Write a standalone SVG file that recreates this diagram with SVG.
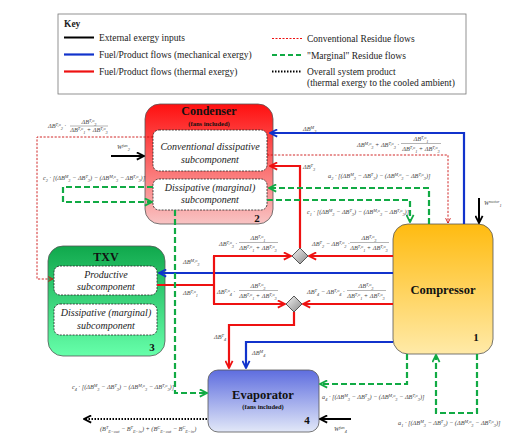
<svg xmlns="http://www.w3.org/2000/svg" width="517" height="444" viewBox="0 0 517 444">
<style>
.kt{font-family:"Liberation Serif",serif;font-size:9.5px;fill:#222}
.f{font-family:"Liberation Serif",serif;font-size:6.3px;font-style:italic;fill:#444}
.k{font-size:4.3px}
.t{font-family:"Liberation Serif",serif;font-weight:bold;fill:#111;text-anchor:middle}
.it{font-family:"Liberation Serif",serif;font-style:italic;font-size:10px;fill:#222;text-anchor:middle}
.box{stroke:#555;stroke-width:0.8}
.sub{fill:#fff;stroke:#222;stroke-width:0.8;stroke-dasharray:2,1.2}
.bl{fill:none;stroke:#1133cc;stroke-width:2.2}
.rd{fill:none;stroke:#ee1111;stroke-width:2.2}
.gr{fill:none;stroke:#11aa44;stroke-width:2.2;stroke-dasharray:6,3}
.rdd{fill:none;stroke:#cc1111;stroke-width:0.9;stroke-dasharray:2.2,1.5}
.bk{fill:none;stroke:#000;stroke-width:2}
.dt{fill:none;stroke:#000;stroke-width:2;stroke-dasharray:1.5,1.5}
.bar{stroke:#444;stroke-width:0.4}
</style>
<defs>
<linearGradient id="gC" x1="0" y1="0" x2="0" y2="1"><stop offset="0" stop-color="#ff1010"/><stop offset="1" stop-color="#f8c4c4"/></linearGradient>
<linearGradient id="gT" x1="0" y1="0" x2="0" y2="1"><stop offset="0" stop-color="#10a84c"/><stop offset="1" stop-color="#66ffaa"/></linearGradient>
<linearGradient id="gP" x1="0" y1="0" x2="0" y2="1"><stop offset="0" stop-color="#ffbb10"/><stop offset="1" stop-color="#ffeaa8"/></linearGradient>
<linearGradient id="gE" x1="0" y1="0" x2="0" y2="1"><stop offset="0" stop-color="#5e6ddf"/><stop offset="1" stop-color="#e2e8f8"/></linearGradient>
<linearGradient id="gD" x1="0" y1="0" x2="1" y2="1"><stop offset="0" stop-color="#f4f4f4"/><stop offset="1" stop-color="#888"/></linearGradient>
<marker id="aB" viewBox="0 0 10 10" refX="9" refY="5" markerWidth="9" markerHeight="9" markerUnits="userSpaceOnUse" orient="auto"><path d="M1,1 L9,5 L1,9" fill="none" stroke="#1133cc" stroke-width="2"/></marker>
<marker id="aR" viewBox="0 0 10 10" refX="9" refY="5" markerWidth="9" markerHeight="9" markerUnits="userSpaceOnUse" orient="auto"><path d="M1,1 L9,5 L1,9" fill="none" stroke="#ee1111" stroke-width="2"/></marker>
<marker id="aG" viewBox="0 0 10 10" refX="9" refY="5" markerWidth="9" markerHeight="9" markerUnits="userSpaceOnUse" orient="auto"><path d="M1,1 L9,5 L1,9" fill="none" stroke="#11aa44" stroke-width="2"/></marker>
<marker id="aK" viewBox="0 0 10 10" refX="9" refY="5" markerWidth="9" markerHeight="9" markerUnits="userSpaceOnUse" orient="auto"><path d="M1,1 L9,5 L1,9" fill="none" stroke="#000" stroke-width="2"/></marker>
<marker id="aD" viewBox="0 0 10 10" refX="9" refY="5" markerWidth="6" markerHeight="6" markerUnits="userSpaceOnUse" orient="auto"><path d="M1,1 L9,5 L1,9" fill="none" stroke="#cc1111" stroke-width="1.5"/></marker>
</defs>
<rect width="517" height="444" fill="#fff"/>

<g id="key">
<rect x="58" y="14" width="408" height="80" fill="#fff" stroke="#777" stroke-width="0.8"/>
<text x="64" y="27" class="kt" font-weight="bold">Key</text>
<line x1="64" y1="37.5" x2="94" y2="37.5" class="bk"/>
<line x1="64" y1="54.5" x2="94" y2="54.5" class="bl"/>
<line x1="64" y1="71.5" x2="94" y2="71.5" class="rd"/>
<text x="99" y="41" class="kt">External exergy inputs</text>
<text x="99" y="58" class="kt">Fuel/Product flows (mechanical exergy)</text>
<text x="99" y="75" class="kt">Fuel/Product flows (thermal exergy)</text>
<line x1="272" y1="38.5" x2="302" y2="38.5" stroke="#ee1111" stroke-width="1" stroke-dasharray="2,1.5"/>
<line x1="272" y1="55" x2="302" y2="55" stroke="#11aa44" stroke-width="2" stroke-dasharray="5,3"/>
<line x1="272" y1="71.5" x2="302" y2="71.5" class="dt"/>
<text x="307" y="42" class="kt">Conventional Residue flows</text>
<text x="307" y="59" class="kt">"Marginal" Residue flows</text>
<text x="307" y="75" class="kt">Overall system product</text>
<text x="307" y="86" class="kt">(thermal exergy to the cooled ambient)</text>
</g>

<g id="condenser">
<rect x="145" y="104" width="128" height="120" rx="15" fill="url(#gC)" class="box"/>
<text x="209" y="115" class="t" font-size="12">Condenser</text>
<text x="209" y="126" class="t" font-size="6.5">(fans included)</text>
<rect x="153" y="130" width="114" height="41" rx="6" class="sub"/>
<text x="210" y="150" class="it">Conventional dissipative</text>
<text x="210" y="163" class="it">subcomponent</text>
<rect x="153" y="179" width="114" height="31" rx="6" class="sub"/>
<text x="210" y="191" class="it">Dissipative (marginal)</text>
<text x="210" y="203" class="it">subcomponent</text>
<text x="257" y="222" class="t" font-size="11">2</text>
</g>

<g id="txv">
<rect x="48" y="246" width="117" height="110" rx="15" fill="url(#gT)" class="box"/>
<text x="106" y="261" class="t" font-size="12">TXV</text>
<rect x="54" y="266" width="103" height="29" rx="6" class="sub"/>
<text x="106" y="278" class="it">Productive</text>
<text x="106" y="290" class="it">subcomponent</text>
<rect x="54" y="304" width="103" height="31" rx="6" class="sub"/>
<text x="106" y="316" class="it">Dissipative (marginal)</text>
<text x="106" y="329" class="it">subcomponent</text>
<text x="152" y="351" class="t" font-size="11">3</text>
</g>

<g id="compressor">
<rect x="393" y="224" width="100" height="130" rx="15" fill="url(#gP)" class="box"/>
<text x="443" y="294" class="t" font-size="12.5">Compressor</text>
<text x="476" y="341" class="t" font-size="11">1</text>
</g>

<g id="evaporator">
<rect x="208" y="370" width="111" height="62" rx="10" fill="url(#gE)" class="box"/>
<text x="263" y="399" class="t" font-size="12.5">Evaporator</text>
<text x="263" y="409" class="t" font-size="6.5">(fans included)</text>
<text x="307" y="424" class="t" font-size="11">4</text>
</g>

<g id="junction1"><path d="M300,248 L308,256 L300,264 L292,256 Z" fill="url(#gD)" stroke="#333" stroke-width="0.8"/></g>
<g id="junction2"><path d="M294,296 L302,304 L294,312 L286,304 Z" fill="url(#gD)" stroke="#333" stroke-width="0.8"/></g>

<g id="connectors">
<path d="M464,224 V133 H270" class="bl" marker-end="url(#aB)"/>
<path d="M393,273 H159" class="bl" marker-end="url(#aB)"/>
<path d="M393,342 H246 V368" class="bl" marker-end="url(#aB)"/>
<path d="M300,248 V166 H270" class="rd" marker-end="url(#aR)"/>
<path d="M157,285 H214" class="rd"/>
<path d="M214,256 V304" class="rd"/>
<path d="M213,256 H291" class="rd" marker-end="url(#aR)"/>
<path d="M213,304 H285" class="rd" marker-end="url(#aR)"/>
<path d="M393,256 H309" class="rd" marker-end="url(#aR)"/>
<path d="M393,304 H303" class="rd" marker-end="url(#aR)"/>
<path d="M294,312 V325 H229 V368" class="rd" marker-end="url(#aR)"/>
<path d="M267,155 H448 V223" class="rdd" marker-end="url(#aD)"/>
<path d="M153,137 H37 V279 H53" class="rdd" marker-end="url(#aD)"/>
<path d="M429,224 V188 H269" class="gr" marker-end="url(#aG)"/>
<path d="M267,200 H410 V222" class="gr" marker-end="url(#aG)"/>
<path d="M153,187 H63 V202 H152" class="gr" marker-end="url(#aG)"/>
<path d="M175,210 V393 H207" class="gr" marker-end="url(#aG)"/>
<path d="M407,354 V384 H320" class="gr" marker-end="url(#aG)"/>
<path d="M477,354 V413 H436 V355" class="gr" marker-end="url(#aG)"/>
<path d="M111,156 H144" class="bk" marker-end="url(#aK)"/>
<path d="M479,198 V223" class="bk" marker-end="url(#aK)"/>
<path d="M351,419 H320" class="bk" marker-end="url(#aK)"/>
<path d="M207,419 H84" class="dt" marker-end="url(#aK)"/>
</g>

<g id="labels">
<text x="117" y="149" class="f">W<tspan class="k" dy="-2.3">fan</tspan><tspan class="k" dy="3.8">2</tspan></text>
<text x="484" y="205" class="f">W<tspan class="k" dy="-2.3">motor</tspan><tspan class="k" dy="3.8">1</tspan></text>
<text x="334" y="431" class="f">W<tspan class="k" dy="-2.3">fan</tspan><tspan class="k" dy="3.8">4</tspan></text>
<text x="303" y="131" class="f">ΔB<tspan class="k" dy="-2.3">M</tspan><tspan class="k" dy="3.8">3</tspan></text>
<text x="303" y="169" class="f">ΔB<tspan class="k" dy="-2.3">T</tspan><tspan class="k" dy="3.8">3</tspan></text>
<text x="183" y="264" class="f">ΔB<tspan class="k" dy="-2.3">M,o</tspan><tspan class="k" dy="3.8">3</tspan></text>
<text x="183" y="295" class="f">ΔB<tspan class="k" dy="-2.3">T,o</tspan><tspan class="k" dy="3.8">1</tspan></text>
<text x="214" y="339" class="f">ΔB<tspan class="k" dy="-2.3">T</tspan><tspan class="k" dy="3.8">4</tspan></text>
<text x="252" y="355" class="f">ΔB<tspan class="k" dy="-2.3">M</tspan><tspan class="k" dy="3.8">4</tspan></text>

<text x="48" y="128" class="f">ΔB<tspan class="k" dy="-2.3">T,o</tspan><tspan class="k" dy="3.8">2</tspan><tspan dy="-1.5"> ·</tspan></text>
<text x="89" y="124" class="f" text-anchor="middle">ΔB<tspan class="k" dy="-2.3">T,o</tspan><tspan class="k" dy="3.8">3</tspan></text>
<line x1="70" y1="126" x2="108" y2="126" class="bar"/>
<text x="89" y="132" class="f" text-anchor="middle">ΔB<tspan class="k" dy="-2.3">T,o</tspan><tspan class="k" dy="3.8">1</tspan><tspan dy="-1.5"> + ΔB</tspan><tspan class="k" dy="-2.3">T,o</tspan><tspan class="k" dy="3.8">3</tspan></text>

<text x="357" y="147" class="f">ΔB<tspan class="k" dy="-2.3">M,o</tspan><tspan class="k" dy="3.8">3</tspan><tspan dy="-1.5"> + ΔB</tspan><tspan class="k" dy="-2.3">T,o</tspan><tspan class="k" dy="3.8">3</tspan><tspan dy="-1.5"> ·</tspan></text>
<text x="421" y="141" class="f" text-anchor="middle">ΔB<tspan class="k" dy="-2.3">T,o</tspan><tspan class="k" dy="3.8">1</tspan></text>
<line x1="401" y1="143.5" x2="441" y2="143.5" class="bar"/>
<text x="421" y="151" class="f" text-anchor="middle">ΔB<tspan class="k" dy="-2.3">T,o</tspan><tspan class="k" dy="3.8">1</tspan><tspan dy="-1.5"> + ΔB</tspan><tspan class="k" dy="-2.3">T,o</tspan><tspan class="k" dy="3.8">3</tspan></text>

<text x="328" y="178" class="f">a<tspan class="k" dy="1.5">2</tspan><tspan dy="-1.5"> · [(ΔB</tspan><tspan class="k" dy="-2.3">M</tspan><tspan class="k" dy="3.8">3</tspan><tspan dy="-1.5"> − ΔB</tspan><tspan class="k" dy="-2.3">T</tspan><tspan class="k" dy="3.8">3</tspan><tspan dy="-1.5">) − (ΔB</tspan><tspan class="k" dy="-2.3">M,o</tspan><tspan class="k" dy="3.8">3</tspan><tspan dy="-1.5"> − ΔB</tspan><tspan class="k" dy="-2.3">T,o</tspan><tspan class="k" dy="3.8">3</tspan><tspan dy="-1.5">)]</tspan></text>
<text x="307" y="214" class="f">c<tspan class="k" dy="1.5">1</tspan><tspan dy="-1.5"> · [(ΔB</tspan><tspan class="k" dy="-2.3">M</tspan><tspan class="k" dy="3.8">3</tspan><tspan dy="-1.5"> − ΔB</tspan><tspan class="k" dy="-2.3">T</tspan><tspan class="k" dy="3.8">3</tspan><tspan dy="-1.5">) − (ΔB</tspan><tspan class="k" dy="-2.3">M,o</tspan><tspan class="k" dy="3.8">3</tspan><tspan dy="-1.5"> − ΔB</tspan><tspan class="k" dy="-2.3">T,o</tspan><tspan class="k" dy="3.8">3</tspan><tspan dy="-1.5">)]</tspan></text>
<text x="43" y="180" class="f">c<tspan class="k" dy="1.5">2</tspan><tspan dy="-1.5"> · [(ΔB</tspan><tspan class="k" dy="-2.3">M</tspan><tspan class="k" dy="3.8">3</tspan><tspan dy="-1.5"> − ΔB</tspan><tspan class="k" dy="-2.3">T</tspan><tspan class="k" dy="3.8">3</tspan><tspan dy="-1.5">) − (ΔB</tspan><tspan class="k" dy="-2.3">M,o</tspan><tspan class="k" dy="3.8">3</tspan><tspan dy="-1.5"> − ΔB</tspan><tspan class="k" dy="-2.3">T,o</tspan><tspan class="k" dy="3.8">3</tspan><tspan dy="-1.5">)]</tspan></text>
<text x="72" y="389" class="f">c<tspan class="k" dy="1.5">4</tspan><tspan dy="-1.5"> · [(ΔB</tspan><tspan class="k" dy="-2.3">M</tspan><tspan class="k" dy="3.8">3</tspan><tspan dy="-1.5"> − ΔB</tspan><tspan class="k" dy="-2.3">T</tspan><tspan class="k" dy="3.8">3</tspan><tspan dy="-1.5">) − (ΔB</tspan><tspan class="k" dy="-2.3">M,o</tspan><tspan class="k" dy="3.8">3</tspan><tspan dy="-1.5"> − ΔB</tspan><tspan class="k" dy="-2.3">T,o</tspan><tspan class="k" dy="3.8">3</tspan><tspan dy="-1.5">)]</tspan></text>
<text x="322" y="399" class="f">a<tspan class="k" dy="1.5">4</tspan><tspan dy="-1.5"> · [(ΔB</tspan><tspan class="k" dy="-2.3">M</tspan><tspan class="k" dy="3.8">3</tspan><tspan dy="-1.5"> − ΔB</tspan><tspan class="k" dy="-2.3">T</tspan><tspan class="k" dy="3.8">3</tspan><tspan dy="-1.5">) − (ΔB</tspan><tspan class="k" dy="-2.3">M,o</tspan><tspan class="k" dy="3.8">3</tspan><tspan dy="-1.5"> − ΔB</tspan><tspan class="k" dy="-2.3">T,o</tspan><tspan class="k" dy="3.8">3</tspan><tspan dy="-1.5">)]</tspan></text>
<text x="398" y="425" class="f">a<tspan class="k" dy="1.5">1</tspan><tspan dy="-1.5"> · [(ΔB</tspan><tspan class="k" dy="-2.3">M</tspan><tspan class="k" dy="3.8">3</tspan><tspan dy="-1.5"> − ΔB</tspan><tspan class="k" dy="-2.3">T</tspan><tspan class="k" dy="3.8">3</tspan><tspan dy="-1.5">) − (ΔB</tspan><tspan class="k" dy="-2.3">M,o</tspan><tspan class="k" dy="3.8">3</tspan><tspan dy="-1.5"> − ΔB</tspan><tspan class="k" dy="-2.3">T,o</tspan><tspan class="k" dy="3.8">3</tspan><tspan dy="-1.5">)]</tspan></text>

<text x="219" y="246" class="f">ΔB<tspan class="k" dy="-2.3">T,o</tspan><tspan class="k" dy="3.8">3</tspan><tspan dy="-1.5"> ·</tspan></text>
<text x="258" y="240" class="f" text-anchor="middle">ΔB<tspan class="k" dy="-2.3">T,o</tspan><tspan class="k" dy="3.8">1</tspan></text>
<line x1="239" y1="242.5" x2="278" y2="242.5" class="bar"/>
<text x="258" y="250" class="f" text-anchor="middle">ΔB<tspan class="k" dy="-2.3">T,o</tspan><tspan class="k" dy="3.8">1</tspan><tspan dy="-1.5"> + ΔB</tspan><tspan class="k" dy="-2.3">T,o</tspan><tspan class="k" dy="3.8">3</tspan></text>
<text x="312" y="246" class="f">ΔB<tspan class="k" dy="-2.3">T</tspan><tspan class="k" dy="3.8">2</tspan><tspan dy="-1.5"> − ΔB</tspan><tspan class="k" dy="-2.3">T,o</tspan><tspan class="k" dy="3.8">2</tspan><tspan dy="-1.5"> ·</tspan></text>
<text x="369" y="240" class="f" text-anchor="middle">ΔB<tspan class="k" dy="-2.3">T,o</tspan><tspan class="k" dy="3.8">3</tspan></text>
<line x1="350" y1="242.5" x2="389" y2="242.5" class="bar"/>
<text x="369" y="250" class="f" text-anchor="middle">ΔB<tspan class="k" dy="-2.3">T,o</tspan><tspan class="k" dy="3.8">1</tspan><tspan dy="-1.5"> + ΔB</tspan><tspan class="k" dy="-2.3">T,o</tspan><tspan class="k" dy="3.8">3</tspan></text>

<text x="217" y="294" class="f">ΔB<tspan class="k" dy="-2.3">T,o</tspan><tspan class="k" dy="3.8">4</tspan><tspan dy="-1.5"> ·</tspan></text>
<text x="258" y="288" class="f" text-anchor="middle">ΔB<tspan class="k" dy="-2.3">T,o</tspan><tspan class="k" dy="3.8">3</tspan></text>
<line x1="239" y1="290.5" x2="278" y2="290.5" class="bar"/>
<text x="258" y="298" class="f" text-anchor="middle">ΔB<tspan class="k" dy="-2.3">T,o</tspan><tspan class="k" dy="3.8">1</tspan><tspan dy="-1.5"> + ΔB</tspan><tspan class="k" dy="-2.3">T,o</tspan><tspan class="k" dy="3.8">3</tspan></text>
<text x="307" y="294" class="f">ΔB<tspan class="k" dy="-2.3">T</tspan><tspan class="k" dy="3.8">4</tspan><tspan dy="-1.5"> − ΔB</tspan><tspan class="k" dy="-2.3">T,o</tspan><tspan class="k" dy="3.8">4</tspan><tspan dy="-1.5"> ·</tspan></text>
<text x="366" y="288" class="f" text-anchor="middle">ΔB<tspan class="k" dy="-2.3">T,o</tspan><tspan class="k" dy="3.8">3</tspan></text>
<line x1="347" y1="290.5" x2="386" y2="290.5" class="bar"/>
<text x="366" y="298" class="f" text-anchor="middle">ΔB<tspan class="k" dy="-2.3">T,o</tspan><tspan class="k" dy="3.8">1</tspan><tspan dy="-1.5"> + ΔB</tspan><tspan class="k" dy="-2.3">T,o</tspan><tspan class="k" dy="3.8">3</tspan></text>

<text x="100" y="431" class="f">(B<tspan class="k" dy="-2.3">T</tspan><tspan class="k" dy="3.8">E−out</tspan><tspan dy="-1.5"> − B</tspan><tspan class="k" dy="-2.3">T</tspan><tspan class="k" dy="3.8">E−in</tspan><tspan dy="-1.5">) + (B</tspan><tspan class="k" dy="-2.3">C</tspan><tspan class="k" dy="3.8">E−out</tspan><tspan dy="-1.5"> − B</tspan><tspan class="k" dy="-2.3">C</tspan><tspan class="k" dy="3.8">E−in</tspan><tspan dy="-1.5">)</tspan></text>
</g>
</svg>
